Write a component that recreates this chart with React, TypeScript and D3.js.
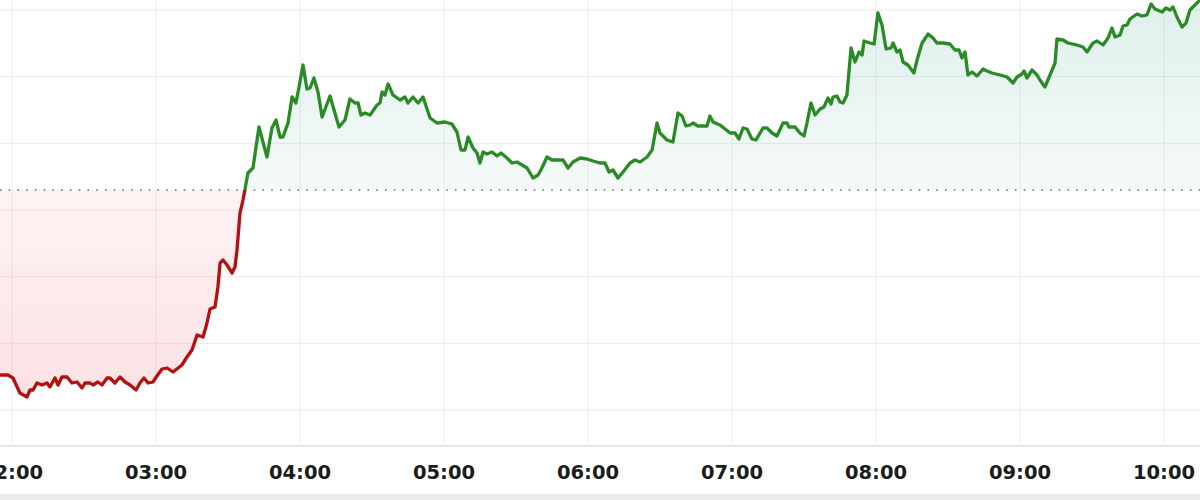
import React from "react";
import * as d3 from "d3";

// minutes since midnight
const times = [
  115, 118.3, 120.4, 123.3, 126.25, 127.5, 128.75, 130.4, 132.5, 134.6, 135.8, 137.9, 139.2, 140.8, 142.9, 145, 147.1,
  149.2, 150.4, 152.5, 153.75, 155.8, 157.5, 159.6, 160.8, 162.9, 165, 167.1, 169.2, 171.7, 173.3, 175, 176.7, 178.75,
  180.4, 182.5, 184.6, 187.1, 190.8, 192.9, 195, 197.1, 199.6, 201.25, 202.5, 204.6, 205.8, 206.7, 207.9, 209.6, 211.7,
  212.9, 213.75, 215, 216.25, 217.1,
  218.3, 220.4, 222.9, 226.25, 228.3, 230, 231.7, 232.9, 235, 236.7, 238.3, 239.6, 241.25, 242.9, 244.2, 245.8, 247.5,
  249.2, 252.5, 256.25, 258.75, 260.8, 262.9, 264.2, 265.4, 267.1, 269.2, 272.1, 273.3, 274.2, 275.4, 276.7, 278.75,
  281.7, 283.75, 285, 287.1, 289.2, 291.25, 294.2, 297.1, 300.4, 303.3, 305.4, 307.1, 308.75, 310, 312.1, 313.75, 315,
  316.25, 317.9, 320, 322.1, 323.75, 326.25, 328.3, 330.4, 332.5, 334.6, 337.1, 339.2, 340.8, 342.9, 345, 347.1, 349.6,
  351.7, 353.75, 356.7, 359.6, 362.1, 365, 367.1, 368.75, 370.4, 372.5, 374.6, 377.5, 379.6, 381.7, 384.6, 386.7,
  388.75, 390, 392.9, 395.4, 397.5, 399.2, 400.8, 402.5, 403.75, 405.8, 409.6, 410.8, 412.1, 415, 419.2, 421.25, 422.9,
  424.6, 426.25, 428.3, 430, 432.9, 434.6, 436.7, 438.75, 441.25, 442.9, 443.75, 446.25, 448.3, 450, 451.25, 452.9,
  454.6, 456.7, 458.3, 460, 461.25, 462.1, 463.75, 465, 466.25, 467.9, 469.6, 471.25, 472.9, 474.2, 475, 477.5, 479.2,
  480.8, 482.5, 484.2, 486.25, 487.1, 488.75, 490, 491.25, 493.3, 495.8, 497.1, 499.2, 501.7, 503.75, 505.4, 507.9,
  510.8, 512.9, 514.6, 515.8, 517.1, 518.3, 520, 522.1, 524.6, 526.25, 528.3, 531.7, 534.6, 537.1, 538.75, 540.8,
  541.7, 542.9, 545, 547.1, 548.3, 550.4, 552.5, 554.6, 555.4, 557.9, 560, 563.75, 566.25, 567.9, 570.4, 572.1, 574.6,
  576.7, 578.3, 579.6, 581.7, 582.9, 584.6, 585.8, 588.75, 590.8, 592.9, 594.6, 596.25, 599.2, 600.8, 602.5, 603.75,
  605.4, 607.5, 609.2, 610.8, 612.9, 615,
];

const values = [
  5.25, 5.25, 4.8, 2.55, 1.95, 3.0, 3.0, 4.05, 3.75, 4.05, 3.45, 4.8, 3.75, 4.95, 4.95, 4.05, 4.2,
  3.3, 4.05, 4.05, 3.75, 4.2, 3.75, 4.8, 4.8, 4.05, 4.95, 4.2, 3.75, 3.0, 4.05, 4.8, 4.05, 4.2,
  5.1, 6.15, 6.3, 5.7, 6.75, 7.95, 9.0, 11.25, 10.95, 13.05, 15.15, 15.45, 18.45, 22.05, 22.5, 21.75, 20.55,
  21.45, 24.0, 29.55, 31.5, 33.15,
  35.55, 36.3, 42.45, 37.95, 42.3, 43.5, 40.95, 40.95, 43.05, 46.95, 46.05, 48.45, 51.75, 48.15, 48.3, 49.8, 47.7,
  43.95, 47.1, 42.45, 43.5, 46.65, 46.05, 46.05, 44.25, 44.55, 44.25, 45.75, 46.05, 47.7, 47.25, 48.9, 47.25,
  46.5, 46.95, 46.05, 46.95, 46.05, 46.95, 43.8, 43.05, 43.2, 42.9, 41.7, 39.0, 39.0, 40.95, 39.3, 38.55, 37.05,
  38.7, 38.4, 38.7, 38.1, 38.55, 37.8, 37.05, 37.2, 36.75, 36.3, 34.8, 35.25, 36.3, 37.95, 37.5, 37.5, 37.5,
  36.3, 37.2, 37.8, 37.65, 37.35, 37.05, 37.05, 35.7, 36.0, 34.8, 35.7, 37.05, 37.5, 37.2, 37.95, 39.0,
  43.05, 41.55, 40.5, 40.2, 44.55, 44.1, 42.6, 42.75, 43.05, 42.6, 42.6, 44.1, 43.2, 42.75, 41.55, 41.55, 40.65,
  42.3, 42.15, 40.65, 40.5, 42.3, 42.3, 41.55, 41.1, 43.05, 43.05, 42.45, 42.45, 41.55, 41.1, 43.05, 46.05,
  44.25, 45.15, 45.45, 46.8, 45.9, 46.95, 47.1, 46.2, 46.05, 47.25, 54.3, 52.2, 53.7, 53.25, 55.35, 55.05, 54.9,
  59.55, 57.75, 54.15, 54.3, 55.05, 53.7, 54.0, 52.2, 51.75, 50.55, 52.5, 55.05, 56.4, 55.8, 55.05, 55.05,
  54.9, 54.0, 54.0, 52.8, 53.7, 50.25, 50.7, 50.1, 51.15, 50.85, 50.55, 50.25, 49.95, 49.05, 49.95, 50.4,
  50.85, 49.8, 51.0, 50.25, 49.5, 48.45, 50.25, 52.05, 55.65, 55.5, 55.05, 54.75, 54.45, 53.7, 55.05, 55.35, 54.75,
  55.8, 57.3, 55.95, 56.25, 57.6, 57.75, 58.65, 59.4, 59.1, 59.25, 60.9, 60.15, 59.7, 60.3, 60.0, 60.45,
  58.95, 57.45, 58.05, 60.0, 60.75, 61.5,
];

const previousClose = 33;
const tickTimes = [120, 180, 240, 300, 360, 420, 480, 540, 600];
const tickLabels = ["02:00", "03:00", "04:00", "05:00", "06:00", "07:00", "08:00", "09:00", "10:00"];
const gridValues = [0, 10, 20, 30, 40, 50, 60];

const W = 1200;
const H = 500;

export default function App() {
  const x = d3.scaleLinear().domain([115, 615]).range([0, 1200]);
  const y = d3.scaleLinear().domain([0, 60]).range([410, 10]);
  const data = times.map((t, i) => ({ t, v: values[i] }));
  const base = y(previousClose);

  const line = d3
    .line<{ t: number; v: number }>()
    .x((d) => x(d.t))
    .y((d) => y(d.v))
    .curve(d3.curveLinear);
  const area = d3
    .area<{ t: number; v: number }>()
    .x((d) => x(d.t))
    .y0(base)
    .y1((d) => y(d.v));

  const axisY = 446;
  const green = "#2a8a26";
  const red = "#b3110f";

  return (
    <svg
      width={W}
      height={H}
      style={{ position: "absolute", left: 0, top: 0, display: "block", background: "#fff" }}
    >
      <defs>
        <clipPath id="above">
          <rect x={0} y={-50} width={W} height={base + 50} />
        </clipPath>
        <clipPath id="below">
          <rect x={0} y={base} width={W} height={H - base} />
        </clipPath>
        <linearGradient id="gFill" gradientUnits="userSpaceOnUse" x1={0} x2={0} y1={0} y2={base}>
          <stop offset="0" stopColor="#2f9c80" stopOpacity={0.15} />
          <stop offset="1" stopColor="#2f9c80" stopOpacity={0.05} />
        </linearGradient>
        <linearGradient id="rFill" gradientUnits="userSpaceOnUse" x1={0} x2={0} y1={base} y2={400}>
          <stop offset="0" stopColor="#e8364c" stopOpacity={0.06} />
          <stop offset="1" stopColor="#e8364c" stopOpacity={0.15} />
        </linearGradient>
      </defs>

      {/* grid */}
      {gridValues.map((g) => (
        <line key={"h" + g} x1={0} x2={W} y1={y(g)} y2={y(g)} stroke="#ececec" strokeWidth={1} />
      ))}
      {tickTimes.map((t) => (
        <line key={"v" + t} x1={x(t)} x2={x(t)} y1={0} y2={axisY} stroke="#ececec" strokeWidth={1} />
      ))}

      {/* fills */}
      <path d={area(data) || ""} fill="url(#gFill)" clipPath="url(#above)" />
      <path d={area(data) || ""} fill="url(#rFill)" clipPath="url(#below)" />

      {/* baseline */}
      <line
        x1={0}
        x2={W}
        y1={base}
        y2={base}
        stroke="#666"
        strokeWidth={1.5}
        strokeDasharray="1.5 7.25"
      />

      {/* lines */}
      <path
        d={line(data) || ""}
        fill="none"
        stroke={green}
        strokeWidth={3.3}
        strokeLinejoin="round"
        strokeLinecap="round"
        clipPath="url(#above)"
      />
      <path
        d={line(data) || ""}
        fill="none"
        stroke={red}
        strokeWidth={3.3}
        strokeLinejoin="round"
        strokeLinecap="round"
        clipPath="url(#below)"
      />

      {/* axis */}
      <line x1={0} x2={W} y1={axisY} y2={axisY} stroke="#dcdcdc" strokeWidth={1.5} />
      {tickTimes.map((t, i) => (
        <text
          key={"l" + t}
          x={x(t)}
          y={479}
          textAnchor="middle"
          fontFamily="'DejaVu Sans', sans-serif"
          fontWeight="bold"
          fontSize={19.5}
          fill="#1c1c1c"
        >
          {tickLabels[i]}
        </text>
      ))}
      <rect x={0} y={494} width={W} height={6} fill="#ebebeb" />
    </svg>
  );
}
